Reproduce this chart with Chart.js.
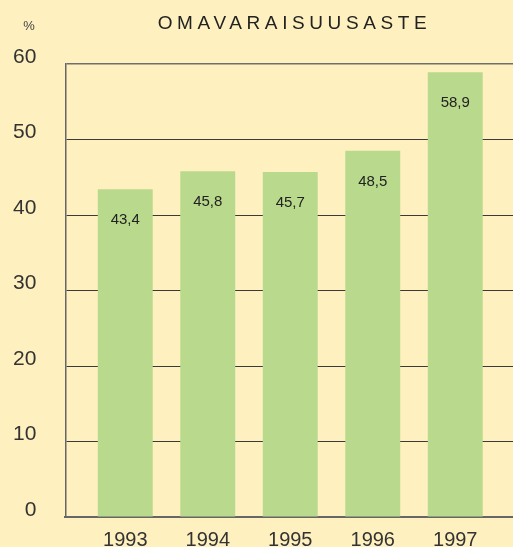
<!DOCTYPE html>
<html>
<head>
	<title>Omavaraisuusaste</title>
	<script src="https://cdn.jsdelivr.net/npm/chart.js"></script>
	<style>
		html, body { margin: 0; padding: 0; background: #fef1bf; overflow: hidden; }
		.wrap { width: 513px; height: 564px; }
	</style>
</head>
<body>
	<div class="wrap">
		<canvas id="myChart"></canvas>
	</div>

<script>
    // data
    const years = [1993, 1994, 1995, 1996, 1997];
    const equityRatio = [43.4, 45.8, 45.7, 48.5, 58.9];
    const yTicks = [0, 10, 20, 30, 40, 50, 60];
    const chartTitle = 'OMAVARAISUUSASTE';
    const unitLabel = '%';

    const fmt = v => v.toFixed(1).replace('.', ',');
    const fontFam = '"Liberation Sans", Arial, sans-serif';

    // title, unit and the value labels inside the bars
    const textPlugin = {
      id: 'texts',
      afterDatasetsDraw(chart) {
        const ctx = chart.ctx;
        const area = chart.chartArea;
        ctx.save();
        ctx.fillStyle = '#222';
        ctx.textAlign = 'left';
        ctx.textBaseline = 'middle';
        ctx.font = '19px ' + fontFam;
        ctx.letterSpacing = '4.6px';
        const w = ctx.measureText(chartTitle).width - 4.6;
        ctx.fillText(chartTitle, (area.left + area.right) / 2 + 3 - w / 2, 24);
        ctx.letterSpacing = '0px';
        ctx.textAlign = 'center';
        ctx.font = '13px ' + fontFam;
        ctx.fillStyle = '#444';
        ctx.fillText(unitLabel, 29, 26);

        ctx.fillStyle = '#222';
        ctx.font = '15px ' + fontFam;
        chart.getDatasetMeta(0).data.forEach((bar, i) => {
          ctx.fillText(fmt(equityRatio[i]), bar.x, bar.y + 31);
        });
        ctx.restore();
      }
    };

    const ctx = document.getElementById('myChart');
    new Chart(ctx, {
      type: 'bar',
      data: {
        datasets: [{
          data: years.map((y, i) => ({ x: y, y: equityRatio[i] })),
          backgroundColor: '#b9da8c',
          borderWidth: 0,
          categoryPercentage: 1,
          barPercentage: 0.666
        }]
      },
      options: {
        responsive: true,
        maintainAspectRatio: false,
        animation: false,
        layout: { padding: { left: -16, right: 0, top: 64, bottom: 1 } },
        plugins: {
          legend: { display: false },
          tooltip: { enabled: false }
        },
        scales: {
          x: {
            type: 'linear',
            offset: false,
            min: years[0] - 0.726,
            max: years[years.length - 1] + 0.70,
            afterBuildTicks: scale => { scale.ticks = years.map(v => ({ value: v })); },
            grid: { display: false, drawTicks: false, offset: false },
            border: { color: '#666', width: 2 },
            ticks: {
              padding: 11,
              color: '#333',
              font: { family: fontFam, size: 20 },
              callback: v => String(v)
            }
          },
          y: {
            min: 0,
            max: 60,
            afterBuildTicks: scale => { scale.ticks = yTicks.map(v => ({ value: v })); },
            grid: {
              drawTicks: false,
              color: c => c.tick && c.tick.value === 60 ? '#6e6e6e' : '#3a3a3a',
              lineWidth: c => c.tick && c.tick.value === 60 ? 1.5 : 1
            },
            border: { color: '#666', width: 1.5 },
            ticks: {
              padding: 29,
              labelOffset: -7,
              color: '#333',
              font: { family: fontFam, size: 21 }
            }
          }
        }
      },
      plugins: [textPlugin]
    });
</script>
</body>
</html>
